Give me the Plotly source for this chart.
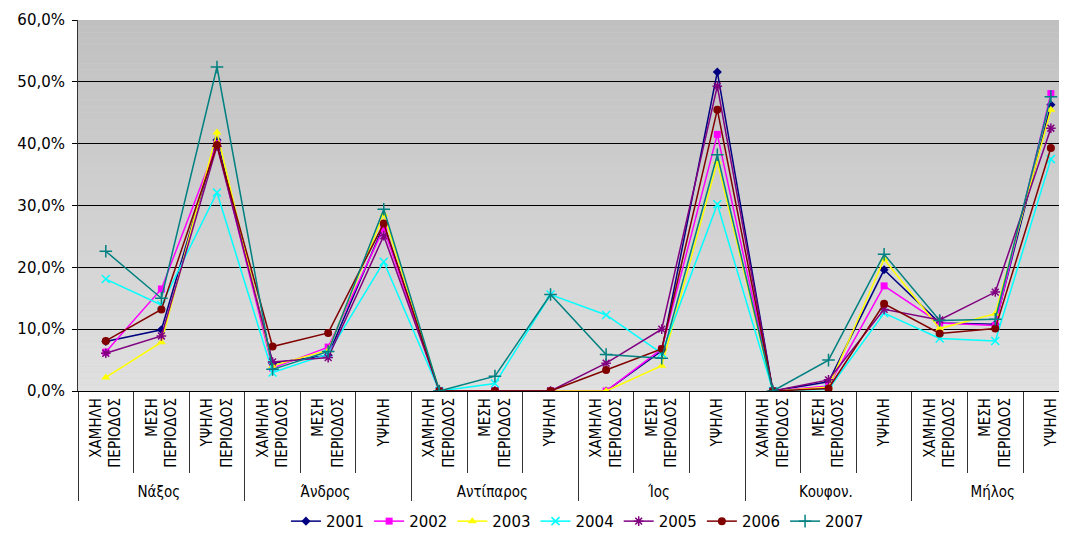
import plotly.graph_objects as go

islands = ["Νάξος", "Άνδρος", "Αντίπαρος", "Ίος", "Κουφον.", "Μήλος"]
periods = [
    ["ΧΑΜΗΛΗ<br>ΠΕΡΙΟΔΟΣ", "ΜΕΣΗ<br>ΠΕΡΙΟΔΟΣ", "ΥΨΗΛΗ<br>ΠΕΡΙΟΔΟΣ"],
    ["ΧΑΜΗΛΗ<br>ΠΕΡΙΟΔΟΣ", "ΜΕΣΗ<br>ΠΕΡΙΟΔΟΣ", "ΥΨΗΛΗ"],
    ["ΧΑΜΗΛΗ<br>ΠΕΡΙΟΔΟΣ", "ΜΕΣΗ<br>ΠΕΡΙΟΔΟΣ", "ΥΨΗΛΗ"],
    ["ΧΑΜΗΛΗ<br>ΠΕΡΙΟΔΟΣ", "ΜΕΣΗ<br>ΠΕΡΙΟΔΟΣ", "ΥΨΗΛΗ"],
    ["ΧΑΜΗΛΗ<br>ΠΕΡΙΟΔΟΣ", "ΜΕΣΗ<br>ΠΕΡΙΟΔΟΣ", "ΥΨΗΛΗ"],
    ["ΧΑΜΗΛΗ<br>ΠΕΡΙΟΔΟΣ", "ΜΕΣΗ<br>ΠΕΡΙΟΔΟΣ", "ΥΨΗΛΗ"],
]

# values in percent, order: Naxos(L,M,H), Andros, Antiparos, Ios, Koufon., Milos
y2001 = [8.0, 9.9, 40.6, 4.5, 5.8, 26.8, 0, 0, 0, 0, 6.5, 51.6, 0, 1.5, 19.6, 11.0, 10.8, 46.3]
y2002 = [6.3, 16.5, 40.0, 3.7, 7.1, 26.3, 0, 0, 0, 0, 6.8, 41.5, 0, 0.8, 17.0, 11.0, 10.6, 48.1]
y2003 = [2.2, 7.9, 41.8, 4.1, 6.6, 28.6, 0, 0, 0, 0, 4.1, 37.1, 0, 0.6, 21.3, 10.1, 12.5, 45.5]
y2004 = [18.1, 13.9, 32.1, 3.0, 6.0, 20.9, 0, 1.2, 15.6, 12.3, 6.1, 30.2, 0, 0.3, 12.6, 8.5, 8.1, 37.5]
y2005 = [6.1, 8.9, 39.6, 4.7, 5.4, 25.1, 0, 0, 0, 4.5, 10.0, 49.3, 0, 1.8, 13.2, 11.5, 16.0, 42.5]
y2006 = [8.1, 13.2, 39.8, 7.2, 9.4, 27.1, 0, 0, 0, 3.4, 6.8, 45.5, 0, 0.4, 14.1, 9.3, 10.1, 39.3]
y2007 = [22.6, 15.0, 52.4, 3.5, 6.4, 29.4, 0, 2.4, 15.6, 5.9, 5.3, 38.2, 0, 5.0, 22.1, 11.4, 11.6, 47.6]

years = ["2001", "2002", "2003", "2004", "2005", "2006", "2007"]
series = [y2001, y2002, y2003, y2004, y2005, y2006, y2007]
colors = ["#000080", "#ff00ff", "#ffff00", "#00ffff", "#800080", "#800000", "#008080"]
symbols = ["diamond", "square", "triangle-up", "x-thin", "asterisk", "circle", "cross-thin"]
sizes = [7, 7, 8, 8, 8, 8, 9]

outer = [isl for isl in islands for _ in range(3)]
inner = [p for grp in periods for p in grp]

fig = go.Figure()
for yr, vals, c, s, sz in zip(years, series, colors, symbols, sizes):
    thin = s in ("x-thin", "asterisk", "cross-thin")
    fig.add_trace(go.Scatter(
        x=[outer, inner], y=vals, name=yr, mode="lines+markers",
        line=dict(color=c, width=1.5),
        marker=dict(symbol=s, size=sz, color=c,
                    line=dict(color=c, width=1.5 if thin else 0)),
    ))

# gradient background
n = 60
for i in range(n):
    t = (i + 0.5) / n
    v = int(round(224 - 32 * t))
    fig.add_shape(type="rect", xref="paper", yref="paper",
                  x0=0, x1=1, y0=i / n, y1=(i + 1) / n,
                  fillcolor=f"rgb({v},{v},{v})", line=dict(width=0), layer="below")

# page body has an 8px margin; size the figure so it sits in the 1067x534 window
fig.update_layout(
    width=1059, height=526, autosize=False,
    margin=dict(l=70, r=0, t=12, b=143),
    paper_bgcolor="white", plot_bgcolor="#d0d0d0",
    separators=",.",
    font=dict(family="DejaVu Sans", color="black", size=14),
    showlegend=True,
    legend=dict(orientation="h", x=0.505, xanchor="center", yref="container", y=0.024,
                yanchor="middle", font=dict(size=15), itemwidth=30,
                tracegroupgap=0),
)
fig.update_xaxes(
    type="multicategory", range=[-0.5, 17.29],
    tickangle=-90, tickfont=dict(family="DejaVu Sans Condensed", size=15),
    showline=True, linecolor="black", linewidth=1,
    ticks="outside", ticklen=81, tickcolor="#333", tickson="boundaries",
    showdividers=True, dividercolor="#333", dividerwidth=1,
    showgrid=False,
)
fig.update_yaxes(
    range=[0, 60], dtick=10, tickformat=".1f", ticksuffix="%",
    showgrid=True, gridcolor="black", gridwidth=1,
    showline=True, linecolor="#333", linewidth=1,
    ticks="outside", ticklen=5, tickcolor="black", ticklabelstandoff=4,
    tickfont=dict(size=15), zeroline=False,
)
fig.write_html("out.html")
